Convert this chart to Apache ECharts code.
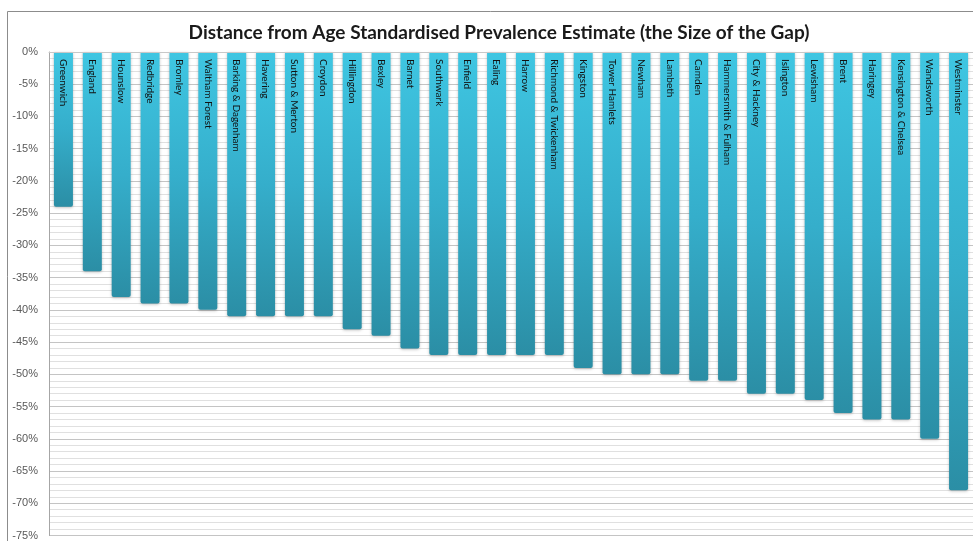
<!DOCTYPE html>
<html>
<head>
<meta charset="utf-8">
<style>
  html, body { margin: 0; padding: 0; background: #ffffff; }
  #chart { width: 973px; height: 541px; }
</style>
<script src="https://cdn.jsdelivr.net/npm/echarts@6/dist/echarts.min.js"></script>
</head>
<body>
<div id="chart"></div>
<script>
// Boroughs (and England) ordered from smallest to largest gap
const categories = [
  'Greenwich', 'England', 'Hounslow', 'Redbridge', 'Bromley', 'Waltham Forest',
  'Barking & Dagenham', 'Havering', 'Sutton & Merton', 'Croydon', 'Hillingdon',
  'Bexley', 'Barnet', 'Southwark', 'Enfield', 'Ealing', 'Harrow',
  'Richmond & Twickenham', 'Kingston', 'Tower Hamlets', 'Newham', 'Lambeth',
  'Camden', 'Hammersmith & Fulham', 'City & Hackney', 'Islington', 'Lewisham',
  'Brent', 'Haringey', 'Kensington & Chelsea', 'Wandsworth', 'Westminster'
];

// Distance from the age standardised prevalence estimate, in percent
const gapValues = [
  -24, -34, -38, -39, -39, -40,
  -41, -41, -41, -41, -43,
  -44, -46, -47, -47, -47, -47,
  -47, -49, -50, -50, -50,
  -51, -51, -53, -53, -54,
  -56, -57, -57, -60, -68
];

const yTicks = { min: -75, max: 0, step: 5 };

const chart = echarts.init(document.getElementById('chart'), null, { renderer: 'canvas' });

const barFill = new echarts.graphic.LinearGradient(0, 0, 0, 1, [
  { offset: 0, color: '#3fc6e2' },
  { offset: 0.5, color: '#35aecb' },
  { offset: 1, color: '#2b8ea5' }
]);

chart.setOption({
  animation: false,
  backgroundColor: '#ffffff',
  title: {
    text: 'Distance from Age Standardised Prevalence Estimate (the Size of the Gap)',
    left: 494,
    textAlign: 'center',
    top: 18,
    textStyle: {
      fontFamily: 'Lato',
      fontSize: 19,
      fontWeight: 'bold',
      color: '#1a1a1a'
    }
  },
  graphic: [{
    type: 'rect',
    shape: { x: 7.5, y: 11.5, width: 1000, height: 600 },
    style: { fill: 'none', stroke: '#8c8c8c', lineWidth: 1 },
    z: -1
  }],
  grid: { left: 49, right: 0, top: 52, bottom: 5, containLabel: false },
  xAxis: {
    type: 'category',
    position: 'top',
    data: categories,
    axisLine: { show: true, lineStyle: { color: '#c8c8c8' } },
    axisTick: { show: false },
    axisLabel: {
      inside: true,
      rotate: -90,
      interval: 0,
      margin: 7,
      align: 'left',
      verticalAlign: 'middle',
      fontFamily: 'Lato',
      fontSize: 10,
      color: '#111111'
    },
    z: 10
  },
  yAxis: {
    type: 'value',
    min: yTicks.min,
    max: yTicks.max,
    interval: yTicks.step,
    axisLine: { show: true, lineStyle: { color: '#a6a6a6' } },
    axisTick: { show: false },
    axisLabel: {
      formatter: '{value}%',
      fontFamily: 'Liberation Sans',
      fontSize: 11,
      color: '#595959',
      margin: 11
    },
    splitLine: { show: true, lineStyle: { color: '#c4c4c4', width: 1 } },
    minorTick: { show: false, splitNumber: 5 },
    minorSplitLine: { show: true, lineStyle: { color: '#e0e0e0', width: 1 } }
  },
  series: [{
    type: 'bar',
    data: gapValues,
    barWidth: 19,
    itemStyle: {
      color: barFill,
      borderRadius: [0, 0, 2, 2],
      shadowColor: 'rgba(0,0,0,0.25)',
      shadowBlur: 3,
      shadowOffsetY: 1
    }
  }]
});
</script>
</body>
</html>
